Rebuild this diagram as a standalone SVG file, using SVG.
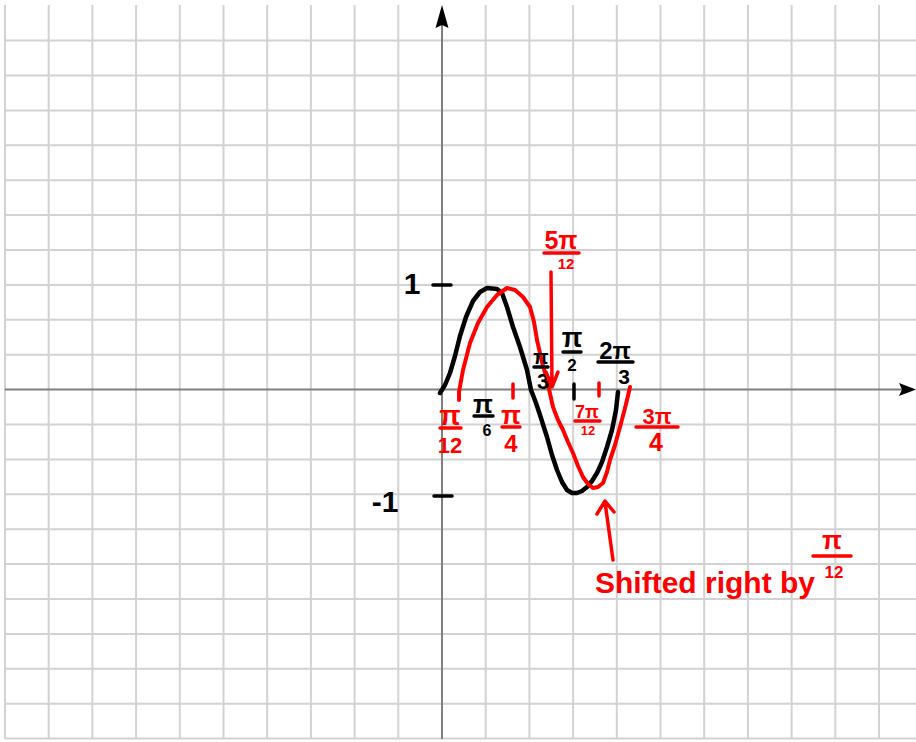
<svg xmlns="http://www.w3.org/2000/svg" width="916" height="742" viewBox="0 0 916 742">
<style>
.g{stroke:#d2d2d2;stroke-width:2;fill:none}
.ax{stroke:#808080;stroke-width:2;fill:none}
.kc{stroke:#000;stroke-width:4.5;fill:none;stroke-linejoin:round;stroke-linecap:round}
.rc{stroke:#ff0000;stroke-width:4;fill:none;stroke-linejoin:round;stroke-linecap:round}
.kl{stroke:#000;stroke-width:3.5;stroke-linecap:round;fill:none}
.rl{stroke:#ff0000;stroke-width:3.5;stroke-linecap:round;fill:none;stroke-linejoin:round}
.t{font-family:"Liberation Sans",Arial,sans-serif;font-weight:bold;text-anchor:middle}
.k{fill:#000}
.r{fill:#ff0000}
</style>
<rect width="916" height="742" fill="#fff"/>
<g id="grid" class="g">
<path d="M5,5V739M48.7,5V739M92.4,5V739M136.1,5V739M179.8,5V739M223.5,5V739M267.2,5V739M310.9,5V739M354.6,5V739M398.3,5V739M485.7,5V739M529.4,5V739M573.1,5V739M616.8,5V739M660.5,5V739M704.2,5V739M747.9,5V739M791.6,5V739M835.3,5V739M879,5V739"/>
<path d="M5,40.6H916M5,75.5H916M5,110.4H916M5,145.3H916M5,180.2H916M5,215.1H916M5,250H916M5,284.9H916M5,319.8H916M5,354.7H916M5,424.5H916M5,459.4H916M5,494.3H916M5,529.2H916M5,564.1H916M5,599H916M5,633.9H916M5,668.8H916M5,703.7H916M5,738.6H916"/>
</g>
<g id="axes">
<path class="ax" d="M442,739V24M5,389.6H902"/>
<path d="M442,5L448.5,28L442,25L435.5,28Z" fill="#000"/>
<path d="M916,389.6L899,383L902,389.6L899,396Z" fill="#000"/>
</g>
<g id="ticks">
<path class="kl" d="M433,285H451M434,496H452" stroke-width="5"/>
<path class="kl" d="M574,384V399"/>
<path class="rl" d="M513,384V398M599,383V396"/>
</g>
<g id="curve-black">
<polyline class="kc" points="440,393 445,385 450,373 455,356 460,336 466,317 473,301 480,292 487,288 497,289 502,293 507,307 513,327 520,347 527,370 531,390 536,403 540,415 547,437 552,455 557,470 562,482 567,490 572,493 577,493 582,491 587,487 592,481 597,473 602,462 607,447 612,430 616,410 618,392"/>
</g>
<g id="curve-red">
<polyline class="rc" points="459,400 459,392 463,370 470,343 478,323 487,307 497,295 507,288 515,290 523,297 530,307 534,322 537,340 542,362 547,380 553,407 558,420 563,430 568,442 573,453 578,466 583,477 588,484 593,488 598,487 603,483 607,472 610,460 615,445 620,427 624,412 627,400 630,387"/>
</g>
<g id="label-1"><text class="t k" x="412" y="294" font-size="30">1</text></g>
<g id="label-m1"><text class="t k" x="385" y="512" font-size="30">-1</text></g>
<g id="label-pi12">
<text class="t r" x="450" y="425" font-size="28">π</text>
<path class="rl" d="M440,428H461"/>
<text class="t r" x="450" y="453" font-size="22">12</text>
</g>
<g id="label-pi6">
<text class="t k" x="483" y="413" font-size="26">π</text>
<path class="kl" d="M474,416H493"/>
<text class="t k" x="487" y="436" font-size="16">6</text>
</g>
<g id="label-pi4">
<text class="t r" x="511" y="424" font-size="26">π</text>
<path class="rl" d="M502,427H520"/>
<text class="t r" x="511" y="452" font-size="24">4</text>
</g>
<g id="label-5pi12">
<text class="t r" x="561" y="249" font-size="25">5π</text>
<path class="rl" d="M544,253H579"/>
<text class="t r" x="566" y="269" font-size="15">12</text>
</g>
<g id="label-pi3">
<text class="t k" x="541" y="364" font-size="20">π</text>
<path class="kl" d="M534,367H548"/>
<text class="t k" x="543" y="389" font-size="22">3</text>
</g>
<g id="label-pi2">
<text class="t k" x="572" y="347" font-size="27">π</text>
<path class="kl" d="M563,352H581"/>
<text class="t k" x="572" y="371" font-size="17">2</text>
</g>
<g id="label-2pi3">
<text class="t k" x="615" y="359" font-size="24">2π</text>
<path class="kl" d="M598,362H633"/>
<text class="t k" x="624" y="384" font-size="21">3</text>
</g>
<g id="label-7pi12">
<text class="t r" x="587" y="418" font-size="18">7π</text>
<path class="rl" d="M575,421H600"/>
<text class="t r" x="588" y="435" font-size="13">12</text>
</g>
<g id="label-3pi4">
<text class="t r" x="657" y="424" font-size="22">3π</text>
<path class="rl" d="M636,427H678"/>
<text class="t r" x="656" y="451" font-size="25">4</text>
</g>
<g id="note">
<text class="r" x="595" y="593" font-size="30" font-family="Liberation Sans, Arial, sans-serif" font-weight="bold">Shifted right by</text>
<text class="t r" x="832" y="549" font-size="26">π</text>
<path class="rl" d="M813,556H851"/>
<text class="t r" x="834" y="578" font-size="17">12</text>
</g>
<g id="connectors">
<path class="rl" d="M551,272L552,386M546,372L552,387L558,372"/>
<path class="rl" d="M613,560L605,502M597,514L605,501L614,512"/>
</g>
</svg>
